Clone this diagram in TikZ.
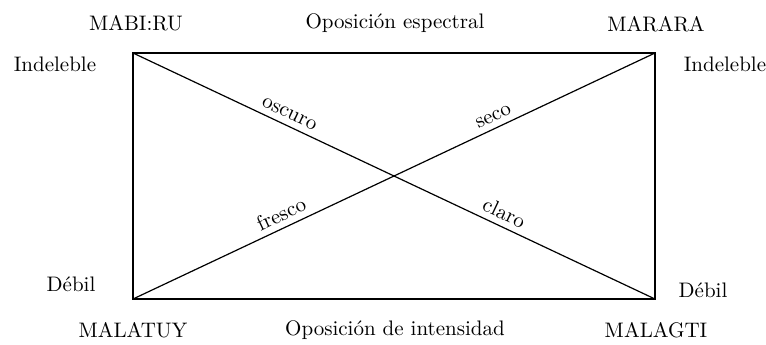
\documentclass[tikz,border=0pt]{standalone}
\usepackage{tikz}

\begin{document}
\begin{tikzpicture}[x=0.5pt,y=-0.5pt,
  txt/.style={font=\fontsize{10.5}{12}\selectfont},
  diag/.style={sloped,above=2pt,inner sep=1pt,font=\fontsize{10.5}{12}\selectfont}]
\useasboundingbox (0,0) rectangle (766,344);
%
\coordinate (tl) at (133,53);
\coordinate (tr) at (655,53);
\coordinate (bl) at (133,299);
\coordinate (br) at (655,299);
%
\draw [line width=0.6pt] (tl) -- (tr) -- (br) -- (bl) -- cycle;
%
\draw [line width=0.6pt] (tl) -- (br)
  node[pos=0.29,diag]{oscuro}
  node[pos=0.70,diag]{claro};
\draw [line width=0.6pt] (bl) -- (tr)
  node[pos=0.295,diag]{fresco}
  node[pos=0.70,diag]{seco};
%
\node[txt] (mabiru) at (136,23) {MABI:RU};
\node[txt] (espectral) at (395,23) {Oposición espectral};
\node[txt] (marara) at (656,24) {MARARA};
%
\node[txt] (indelebleL) at (55,64) {Indeleble};
\node[txt] (indelebleR) at (725,64) {Indeleble};
\node[txt] (debilL) at (71,284) {Débil};
\node[txt] (debilR) at (703,290) {Débil};
%
\node[txt] (malatuy) at (133,330) {MALATUY};
\node[txt] (intensidad) at (395,330) {Oposición de intensidad};
\node[txt] (malagti) at (656,330) {MALAGTI};
\end{tikzpicture}
\end{document}
